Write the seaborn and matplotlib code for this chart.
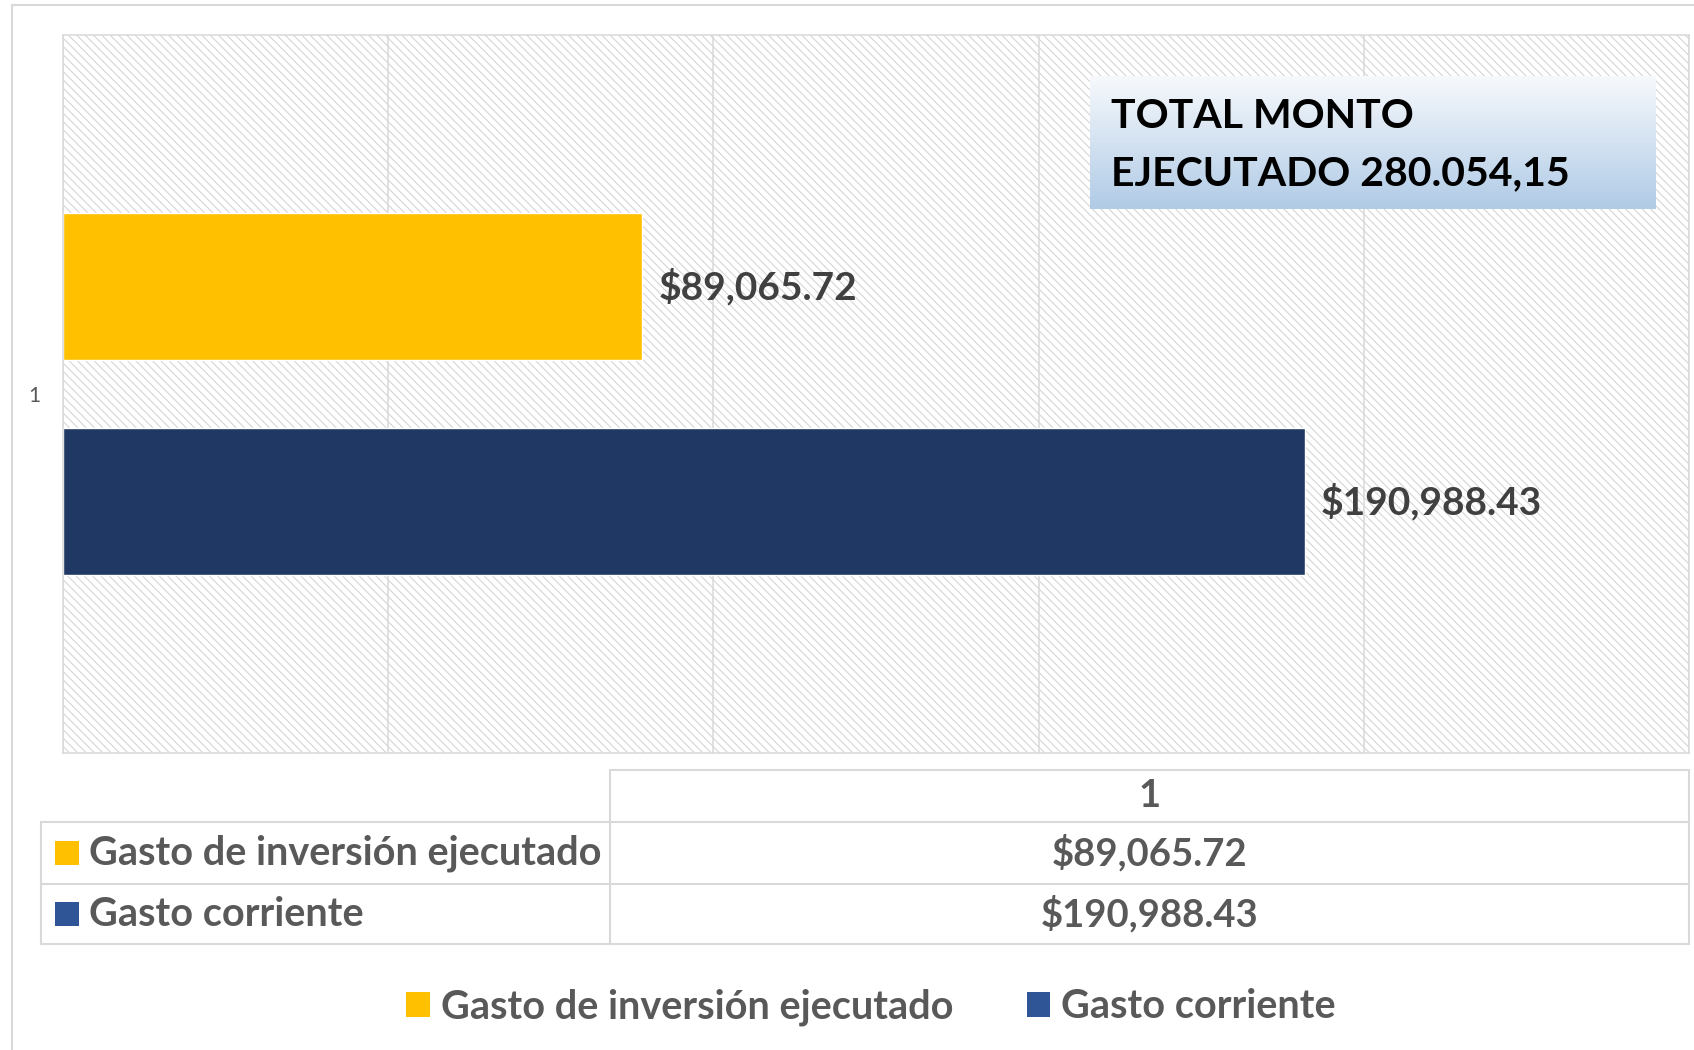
"""
Gasto ejecutado: barras horizontales con tabla de datos y leyenda inferior
"""

import matplotlib.pyplot as plt
import numpy as np
import pandas as pd
import seaborn as sns
from matplotlib.patches import Rectangle, Patch
from matplotlib.lines import Line2D

# Data
category = ["1"]
series = ["Gasto de inversión ejecutado", "Gasto corriente"]
amounts = [89065.72, 190988.43]
bar_colors = ["#FFC000", "#203864"]
key_colors = ["#FFC000", "#2F5597"]

total = sum(amounts)


def money(v):
    return f"${v:,.2f}"


def monto_es(v):
    # Spanish style: dot for thousands, comma for decimals
    return f"{v:,.2f}".replace(",", "X").replace(".", ",").replace("X", ".")


df = pd.DataFrame({
    "categoria": category * len(series),
    "serie": series,
    "monto": amounts,
})

sns.set_theme(style="white")
plt.rcParams["font.family"] = ["Lato", "DejaVu Sans"]
plt.rcParams["hatch.linewidth"] = 0.7

W, H = 1694, 1050
fig = plt.figure(figsize=(W / 100, H / 100), dpi=100)


def fx(px):
    return px / W


def fy(py):
    return 1 - py / H


# outer chart border
fig.add_artist(Line2D([fx(12), fx(12)], [fy(5), 0], color="#D9D9D9", lw=1.5))
fig.add_artist(Line2D([fx(12), 1], [fy(5), fy(5)], color="#D9D9D9", lw=1.5))

# plot area
ax = fig.add_axes([fx(63), fy(753), fx(1689) - fx(63), fy(35) - fy(753)])
ax.add_patch(Rectangle((0, 0), 1, 1, transform=ax.transAxes, facecolor="white",
                       edgecolor="#D0D0D0", hatch="\\\\\\\\", linewidth=0, zorder=0.1))

sns.barplot(data=df, x="monto", y="categoria", hue="serie", hue_order=series,
            palette=bar_colors, orient="h", width=0.6, gap=0.32, saturation=1,
            errorbar=None, legend=False, ax=ax, zorder=2)

for cont, v in zip(ax.containers, amounts):
    ax.bar_label(cont, labels=[money(v)], padding=11.5, fontsize=28,
                 fontweight="bold", color="#404040")

ax.set_xlim(0, 250000)
ax.set_ylim(0.5, -0.5)
ax.set_xticks(np.arange(0, 250001, 50000))
ax.set_xticklabels([])
ax.set_xlabel("")
ax.set_ylabel("")
ax.set_axisbelow(True)
ax.xaxis.grid(True, color="#D9D9D9", linewidth=1.1)
ax.tick_params(axis="x", length=0)
ax.tick_params(axis="y", length=0, pad=16, labelsize=15, labelcolor="#595959")
for s in ax.spines.values():
    s.set_color("#D9D9D9")
    s.set_linewidth(1.1)

# total box with gradient
box = fig.add_axes([fx(1090), fy(209), fx(1656) - fx(1090), fy(76) - fy(209)])
grad = np.linspace(0, 1, 256).reshape(-1, 1)
top_c = np.array([0xF7, 0xF9, 0xFC]) / 255
bot_c = np.array([0xB0, 0xCB, 0xE6]) / 255
img = top_c[None, None, :] * (1 - grad[:, :, None]) + bot_c[None, None, :] * grad[:, :, None]
box.imshow(img, aspect="auto", extent=[0, 1, 0, 1])
box.set_axis_off()
fig.text(fx(1111), fy(116), "TOTAL MONTO", fontsize=29.5, fontweight="bold",
         color="black", ha="left", va="center")
fig.text(fx(1111), fy(174), f"EJECUTADO {monto_es(total)}", fontsize=29.5,
         fontweight="bold", color="black", ha="left", va="center")

# data table
grid_c = "#D9D9D9"
lw = 1.5
x_left, x_mid, x_right = 41, 610, 1689
y_head, y_r1, y_r2, y_bot = 770, 822, 884, 944
for x0, x1, y in [(x_mid, x_right, y_head), (x_left, x_right, y_r1),
                  (x_left, x_right, y_r2), (x_left, x_right, y_bot)]:
    fig.add_artist(Line2D([fx(x0), fx(x1)], [fy(y), fy(y)], color=grid_c, lw=lw))
for x, y0 in [(x_left, y_r1), (x_mid, y_head), (x_right, y_head)]:
    fig.add_artist(Line2D([fx(x), fx(x)], [fy(y0), fy(y_bot)], color=grid_c, lw=lw))

x_val = (x_mid + x_right) / 2
fig.text(fx(x_val), fy((y_head + y_r1) / 2), category[0], fontsize=27.5,
         fontweight="bold", color="#595959", ha="center", va="center")
row_centres = [(y_r1 + y_r2) / 2, (y_r2 + y_bot) / 2]
for name, v, c, yc in zip(series, amounts, key_colors, row_centres):
    fig.add_artist(Rectangle((fx(55), fy(yc + 12)), fx(24), 24 / H, facecolor=c,
                             edgecolor="none", transform=fig.transFigure))
    fig.text(fx(89), fy(yc), name, fontsize=28.5, fontweight="bold",
             color="#595959", ha="left", va="center")
    fig.text(fx(x_val), fy(yc), money(v), fontsize=27.5, fontweight="bold",
             color="#595959", ha="center", va="center")

# bottom legend
handles = [Patch(facecolor=c, edgecolor="none", label=s) for s, c in zip(series, key_colors)]
leg = fig.legend(handles=handles, loc="center", bbox_to_anchor=(fx(871), fy(1007)),
                 ncol=2, frameon=False, fontsize=28.5, handlelength=0.6,
                 handleheight=0.6, handletextpad=0.28, columnspacing=1.85)
for t in leg.get_texts():
    t.set_color("#595959")
    t.set_fontweight("bold")

fig.savefig("out.png", dpi=100)
